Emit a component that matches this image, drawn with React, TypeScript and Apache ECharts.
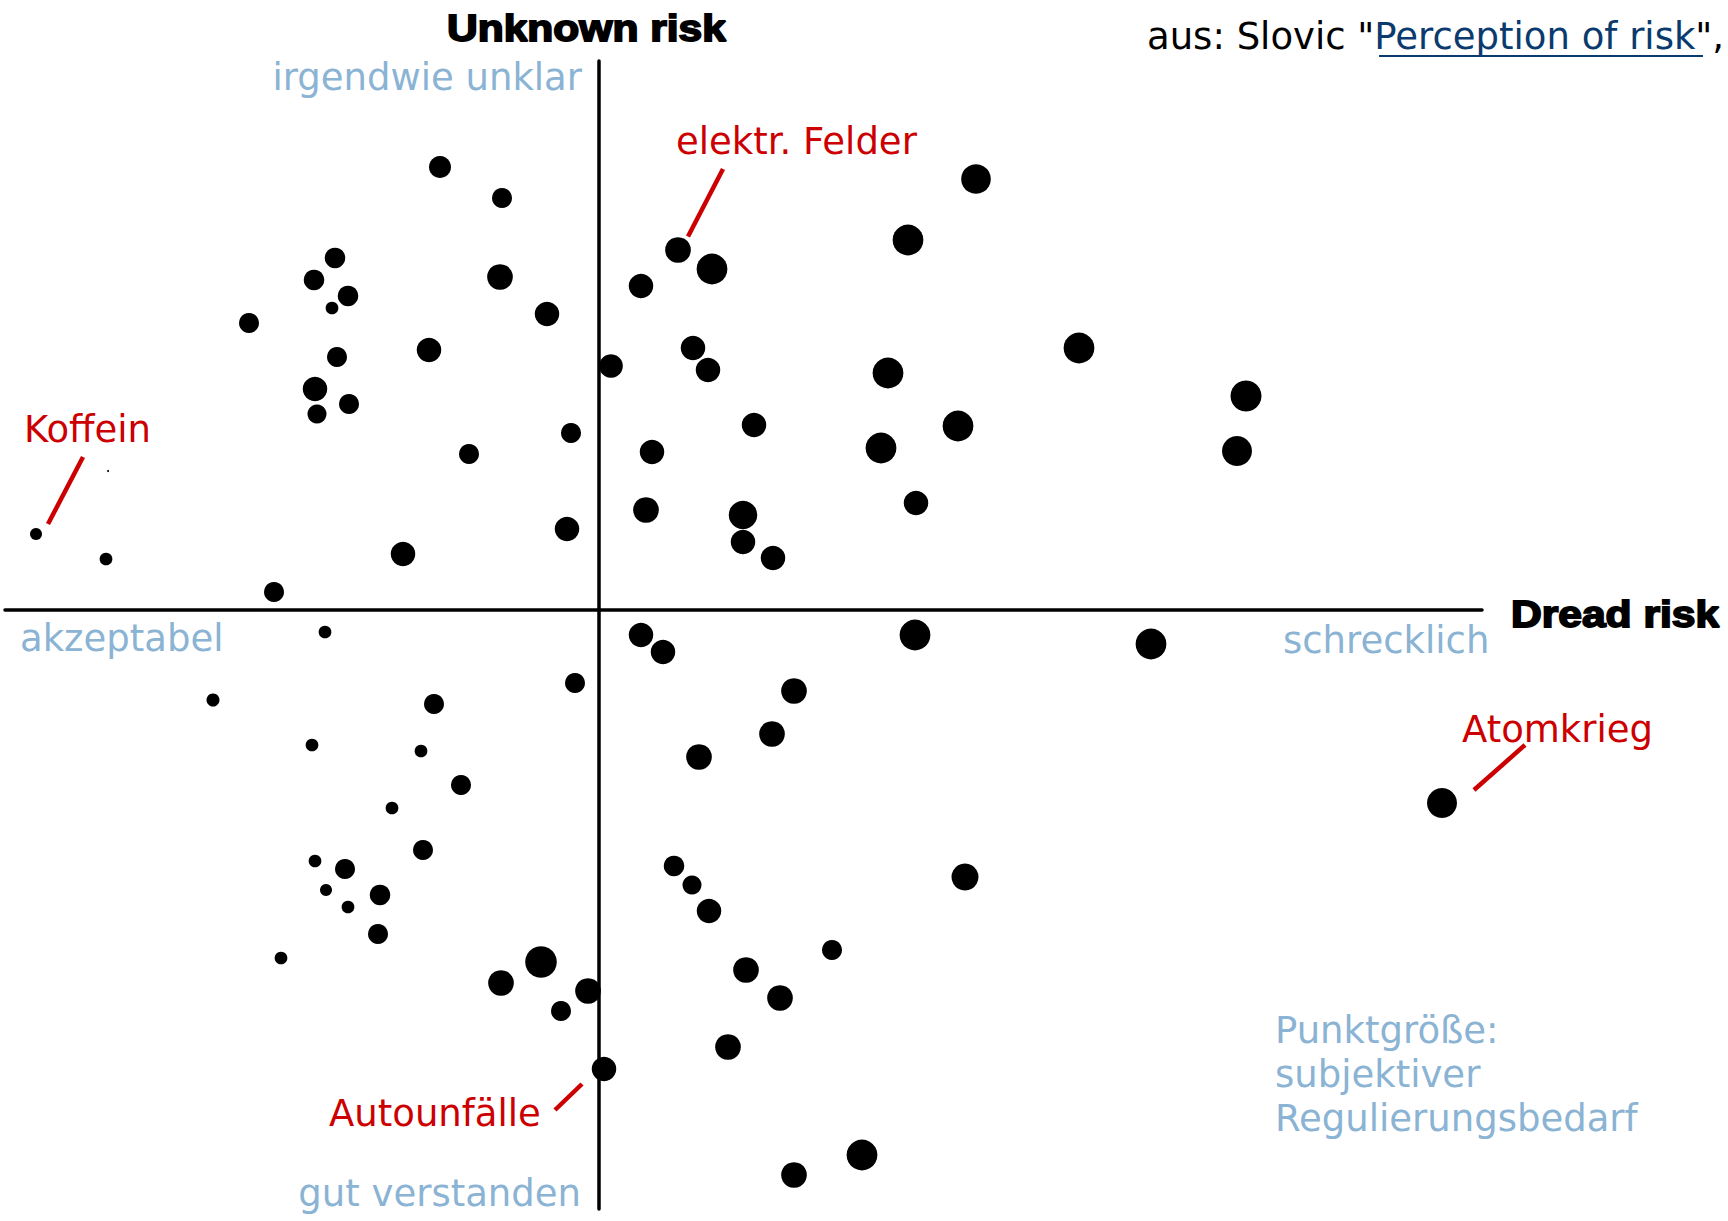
import React, { useEffect, useRef } from "react";
import * as echarts from "echarts";

// Dread risk (x), Unknown risk (y), subjektiver Regulierungsbedarf (point size)
const dreadRisk = [
  -1.59, -0.97, -2.64, -2.85, -2.51, -2.67, -0.99, -0.52, -3.5, -1.7, -2.62, -2.84, -2.5, -2.82, -0.28, -1.3, -5.63, -4.91, -4.93, -1.96, -0.32, -3.25,
  3.77, 3.09, 0.79, 1.13, 0.42, 0.12, 0.94, 1.09, 4.8, 2.89, 1.55, 3.59, 0.53, 2.82, 3.17, 0.47, 1.44, 1.44, 1.74, 6.47, 6.38,
  -2.74, -3.86, -1.65, -0.24, -2.87, -1.78, -1.38, -2.07, -1.76, -2.84, -2.54, -2.73, -2.19, -2.51, -2.21, -3.18, -0.58, -0.98, -0.11, -0.38, 0.05,
  0.42, 0.64, 3.16, 5.52, 1.95, 1.73, 1.0, 0.75, 0.93, 1.1, 3.66, 2.33, 1.47, 1.81, 1.29, 2.63, 1.95, 8.43,
];
const unknownRisk = [
  4.43, 4.12, 3.52, 3.3, 3.14, 3.02, 3.33, 2.96, 2.87, 2.6, 2.53, 2.21, 2.06, 1.96, 1.77, 1.56, 0.76, 1.39, 0.51, 0.56, 0.81, 0.18,
  4.31, 3.7, 3.6, 3.41, 3.24, 2.44, 2.62, 2.4, 2.62, 2.37, 1.85, 1.84, 1.58, 1.62, 1.07, 1.0, 0.95, 0.68, 0.52, 2.14, 1.59,
  -0.22, -0.9, -0.94, -0.73, -1.35, -1.41, -1.75, -1.98, -2.4, -2.51, -2.59, -2.8, -2.85, -2.97, -3.24, -3.48, -3.52, -3.73, -3.81, -4.01, -4.59,
  -0.25, -0.42, -0.25, -0.34, -0.81, -1.24, -1.47, -2.56, -2.75, -3.01, -2.67, -3.4, -3.6, -3.88, -4.37, -5.45, -5.65, -1.93,
];
const regulationNeed = [
  2.2, 2.0, 2.05, 2.05, 2.05, 1.27, 2.57, 2.45, 2.0, 2.45, 2.0, 2.45, 2.0, 1.9, 2.0, 2.0, 1.2, 0.2, 1.27, 2.45, 2.45, 2.0,
  2.97, 3.08, 2.57, 3.08, 2.45, 2.37, 2.45, 2.45, 3.08, 3.08, 2.45, 3.08, 2.45, 3.08, 2.45, 2.57, 2.85, 2.45, 2.45, 3.1, 3.0,
  1.27, 1.3, 2.0, 2.0, 1.27, 1.27, 2.0, 1.27, 2.0, 1.27, 2.0, 1.2, 2.05, 1.27, 2.0, 1.27, 3.16, 2.57, 2.57, 2.0, 2.45,
  2.45, 2.45, 3.08, 3.08, 2.57, 2.57, 2.57, 2.05, 1.9, 2.45, 2.7, 2.0, 2.57, 2.57, 2.57, 3.08, 2.57, 3.0,
];

const xAxisName = "Dread risk";
const yAxisName = "Unknown risk";
const quadrantLabels = ["irgendwie unklar", "akzeptabel", "schrecklich", "gut verstanden"];
const legendLines = ["Punktgröße:", "subjektiver", "Regulierungsbedarf"];
const annotationTexts = ["Koffein", "elektr. Felder", "Autounfälle", "Atomkrieg"];

const BLUE = "#8ab3d4";
const RED = "#cc0000";
const FONT = "'DejaVu Sans', Verdana, sans-serif";
const FS = 37;
const MID = 0.3465 * FS; // baseline -> central offset
const TFS = 37;

export default function App() {
  const ref = useRef<HTMLDivElement>(null);
  useEffect(() => {
    if (!ref.current) return;
    const chart = echarts.init(ref.current, undefined, { renderer: "svg" });
    const data = dreadRisk.map((x, i) => [x, unknownRisk[i], regulationNeed[i]]);

    const txt = (s: string, x: number, baseline: number, color: string, align = "left") => ({
      type: "text",
      x,
      y: baseline - MID,
      silent: true,
      style: { text: s, fill: color, font: `${FS}px ${FONT}`, align, verticalAlign: "middle" },
    });
    const redLine = (x1: number, y1: number, x2: number, y2: number) => ({
      type: "line",
      silent: true,
      shape: { x1, y1, x2, y2 },
      style: { stroke: RED, lineWidth: 4.5 },
    });
    const axisTitle = (s: string, x: number, baseline: number) => ({
      type: "text",
      x,
      y: baseline - 0.3465 * TFS,
      scaleX: 1.15,
      silent: true,
      style: {
        text: s,
        fill: "#000",
        font: `bold ${TFS}px 'Liberation Sans', Arial, sans-serif`,
        align: "left",
        verticalAlign: "middle",
        stroke: "#000",
        lineWidth: 1.8,
      },
    });

    chart.setOption({
      animation: false,
      backgroundColor: "#fff",
      grid: { left: 5, right: 246, top: 61, bottom: 12 },
      xAxis: {
        type: "value",
        min: -5.94,
        max: 8.83,
        axisLine: { show: true, onZero: true, lineStyle: { color: "#000", width: 3.5 } },
        axisTick: { show: false },
        axisLabel: { show: false },
        splitLine: { show: false },
      },
      yAxis: {
        type: "value",
        min: -5.99,
        max: 5.49,
        axisLine: { show: true, onZero: true, lineStyle: { color: "#000", width: 3.5 } },
        axisTick: { show: false },
        axisLabel: { show: false },
        splitLine: { show: false },
      },
      series: [
        {
          type: "scatter",
          data,
          symbol: "circle",
          symbolSize: (v: number[]) => v[2] * 10,
          itemStyle: { color: "#000", opacity: 1 },
          silent: true,
          emphasis: { disabled: true },
        },
      ],
      graphic: [
        axisTitle(yAxisName, 447, 41),
        axisTitle(xAxisName, 1511, 627),
        txt(quadrantLabels[0], 582, 90, BLUE, "right"),
        txt(quadrantLabels[1], 20, 651, BLUE),
        txt(quadrantLabels[2], 1283, 653, BLUE),
        txt(quadrantLabels[3], 581, 1206, BLUE, "right"),
        txt(legendLines[0], 1275, 1043, BLUE),
        txt(legendLines[1], 1275, 1087, BLUE),
        txt(legendLines[2], 1275, 1131, BLUE),
        txt(annotationTexts[0], 24, 442, RED),
        txt(annotationTexts[1], 676, 154, RED),
        txt(annotationTexts[2], 329, 1126, RED),
        txt(annotationTexts[3], 1462, 742, RED),
        redLine(83, 457, 48, 524),
        redLine(723, 169, 688, 236.5),
        redLine(582, 1084, 555, 1110),
        redLine(1525, 745, 1474, 790),
        {
          type: "text",
          x: 1147,
          y: 49 - MID,
          silent: true,
          style: {
            text: '{a|aus: Slovic "}{l|Perception of risk}{a|",}',
            font: `${FS}px ${FONT}`,
            verticalAlign: "middle",
            rich: {
              a: { fill: "#000", font: `${FS}px ${FONT}` },
              l: { fill: "#0b3a6e", font: `${FS}px ${FONT}` },
            },
          },
        },
        {
          type: "line",
          silent: true,
          shape: { x1: 1379, y1: 56, x2: 1703, y2: 56 },
          style: { stroke: "#0b3a6e", lineWidth: 2 },
        },
      ],
    });
    return () => chart.dispose();
  }, []);
  return (
    <div
      ref={ref}
      style={{ position: "fixed", left: 0, top: 0, width: 1728, height: 1221, background: "#fff" }}
    />
  );
}
